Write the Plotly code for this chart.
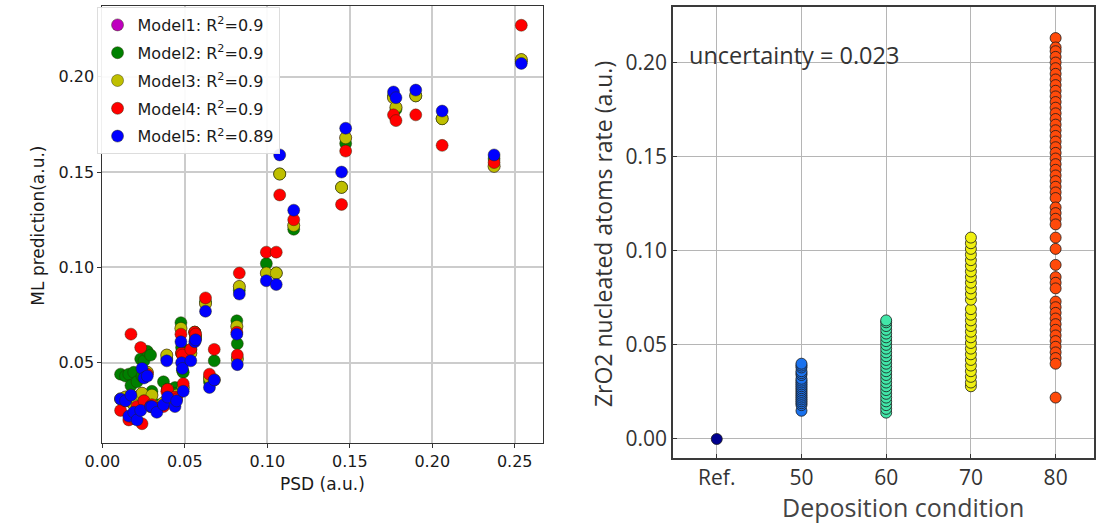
import plotly.graph_objects as go

# ---------------- Left panel data ----------------
psd = [0.011, 0.014, 0.016, 0.0173, 0.019, 0.021, 0.0232, 0.024, 0.0252, 0.0272,
       0.0292, 0.030, 0.033, 0.037, 0.039, 0.0395, 0.044, 0.045, 0.0476, 0.048,
       0.0485, 0.049, 0.0536, 0.056, 0.0565, 0.0625, 0.0649, 0.0678, 0.0815, 0.0818,
       0.083, 0.0994, 0.1054, 0.1075, 0.116, 0.145, 0.1475, 0.1765, 0.178, 0.190,
       0.206, 0.2375, 0.254]

model2 = [0.044, 0.043, 0.044, 0.038, 0.045, 0.040, 0.052, 0.043, 0.051, 0.056,
          0.054, 0.035, 0.028, 0.040, 0.052, 0.036, 0.037, 0.034, 0.071, 0.058,
          0.046, 0.045, 0.057, 0.066, 0.064, 0.082, 0.040, 0.051, 0.072, 0.060,
          0.088, 0.102, 0.097, 0.149, 0.120, 0.142, 0.165, 0.190, 0.183, 0.190,
          0.178, 0.157, 0.208]

model3 = [0.031, 0.032, 0.030, 0.033, 0.028, 0.030, 0.033, 0.034, 0.030, 0.045,
          0.029, 0.033, 0.027, 0.029, 0.054, 0.036, 0.030, 0.033, 0.068, 0.055,
          0.050, 0.037, 0.055, 0.066, 0.063, 0.081, 0.042, 0.041, 0.069, 0.052,
          0.090, 0.097, 0.097, 0.149, 0.122, 0.142, 0.168, 0.189, 0.184, 0.190,
          0.178, 0.153, 0.209]

model1 = list(model3)

model4 = [0.025, 0.030, 0.020, 0.065, 0.021, 0.027, 0.058, 0.018, 0.030, 0.044,
          0.027, 0.028, 0.026, 0.027, 0.035, 0.036, 0.032, 0.031, 0.065, 0.055,
          0.054, 0.039, 0.057, 0.066, 0.065, 0.084, 0.044, 0.057, 0.066, 0.054,
          0.097, 0.108, 0.108, 0.138, 0.125, 0.133, 0.161, 0.180, 0.177, 0.180,
          0.164, 0.155, 0.227]

model5 = [0.031, 0.030, 0.022, 0.033, 0.024, 0.020, 0.025, 0.047, 0.042, 0.043,
          0.027, 0.027, 0.024, 0.028, 0.051, 0.032, 0.027, 0.030, 0.061, 0.050,
          0.047, 0.035, 0.051, 0.061, 0.062, 0.077, 0.037, 0.041, 0.065, 0.049,
          0.086, 0.093, 0.091, 0.159, 0.130, 0.150, 0.173, 0.192, 0.189, 0.193,
          0.182, 0.159, 0.207]

model_names = ["Model1: R<sup>2</sup>=0.9", "Model2: R<sup>2</sup>=0.9",
               "Model3: R<sup>2</sup>=0.9", "Model4: R<sup>2</sup>=0.9",
               "Model5: R<sup>2</sup>=0.89"]
model_colors = ["#bf00bf", "#008000", "#bfbf00", "#ff0000", "#0000ff"]

# ---------------- Right panel data ----------------
categories = ["Ref.", "50", "60", "70", "80"]
rate_ref = [0.0]
rate_50 = [0.015, 0.018, 0.019, 0.020, 0.021, 0.022, 0.023, 0.024, 0.025, 0.026,
           0.027, 0.028, 0.029, 0.030, 0.031, 0.032, 0.034, 0.035, 0.036, 0.038,
           0.039, 0.040]
rate_60 = [0.014, 0.016, 0.018, 0.020, 0.022, 0.024, 0.026, 0.028, 0.030, 0.032,
           0.034, 0.036, 0.038, 0.040, 0.042, 0.044, 0.046, 0.048, 0.050, 0.052,
           0.054, 0.056, 0.058, 0.060, 0.062, 0.063]
rate_70 = [0.028, 0.030, 0.033, 0.036, 0.039, 0.042, 0.045, 0.048, 0.051, 0.054,
           0.057, 0.060, 0.063, 0.066, 0.069, 0.074, 0.077, 0.080, 0.083, 0.086,
           0.089, 0.092, 0.095, 0.098, 0.101, 0.104, 0.107]
rate_80 = [0.213, 0.208, 0.206, 0.203, 0.200, 0.197, 0.194, 0.191, 0.188, 0.185,
           0.182, 0.179, 0.176, 0.173, 0.170, 0.167, 0.164, 0.161, 0.158, 0.155,
           0.152, 0.149, 0.146, 0.143, 0.140, 0.137, 0.134, 0.131, 0.128, 0.123,
           0.120, 0.117, 0.114, 0.107, 0.101, 0.0925, 0.086, 0.083, 0.080, 0.073,
           0.070, 0.067, 0.064, 0.061, 0.058, 0.055, 0.052, 0.049, 0.046, 0.043,
           0.040, 0.022]
rates = [rate_ref, rate_50, rate_60, rate_70, rate_80]
cat_colors = ["#00008f", "#1a72ee", "#42e6a8", "#f0f010", "#ff4a0a"]

W, H = 1096, 523

fig = go.Figure()

models = [model1, model2, model3, model4, model5]
for i, (name, col, ys) in enumerate(zip(model_names, model_colors, models)):
    fig.add_trace(go.Scatter(
        x=psd, y=ys, mode="markers", name=name, legendgroup=f"g{i}",
        marker=dict(color=col, size=12, line=dict(color="rgba(40,40,0,0.55)", width=0.8)),
        xaxis="x", yaxis="y"))

for cat, vals, col in zip(categories, rates, cat_colors):
    fig.add_trace(go.Scatter(
        x=[cat] * len(vals), y=vals, mode="markers", showlegend=False,
        marker=dict(color=col, size=11, line=dict(color="#1a1a1a", width=0.8)),
        xaxis="x2", yaxis="y2"))

left_tick_font = dict(family="DejaVu Sans", size=16, color="#1a1a1a")
left_title_font = dict(family="DejaVu Sans", size=17, color="#1a1a1a")
right_font = dict(family="Open Sans", size=21, color="#333333")

fig.update_layout(
    width=W, height=H, margin=dict(l=0, r=0, t=0, b=0),
    paper_bgcolor="white", plot_bgcolor="white",
    showlegend=True,
    legend=dict(x=80 / W, y=1 - 7 / H, xanchor="left", yanchor="top",
                bgcolor="rgba(255,255,255,0.92)", bordercolor="#dddddd", borderwidth=1,
                font=dict(family="DejaVu Sans", size=16, color="#1a1a1a"),
                tracegroupgap=4, itemwidth=30),
    xaxis=dict(domain=[86 / W, 535 / W], range=[0, 0.2673], anchor="y",
               tickvals=[0, 0.05, 0.1, 0.15, 0.2, 0.25],
               ticktext=["0.00", "0.05", "0.10", "0.15", "0.20", "0.25"],
               ticks="outside", ticklen=4, tickcolor="#333333",
               showgrid=True, gridcolor="#cccccc", gridwidth=1.5,
               showline=True, linecolor="#333333", linewidth=1.2, mirror=True,
               zeroline=False, tickfont=left_tick_font),
    yaxis=dict(domain=[1 - 443 / H, 1 - 6 / H], range=[0.0079, 0.2371], anchor="x",
               tickvals=[0.05, 0.1, 0.15, 0.2],
               ticktext=["0.05", "0.10", "0.15", "0.20"],
               ticks="outside", ticklen=4, tickcolor="#333333",
               showgrid=True, gridcolor="#cccccc", gridwidth=1.5,
               showline=True, linecolor="#333333", linewidth=1.2, mirror=True,
               zeroline=False, tickfont=left_tick_font),
    xaxis2=dict(domain=[667.3 / W, 1.0], range=[-0.515, 4.453], anchor="y2",
                type="category", categoryorder="array", categoryarray=categories,
                ticks="inside", ticklen=4, tickcolor="#333333",
                showgrid=True, gridcolor="#b5b5b5", gridwidth=1,
                showline=True, linecolor="#3a3a3a", linewidth=2, mirror=True,
                zeroline=False, tickfont=right_font),
    yaxis2=dict(domain=[1 - 458 / H, 1 - 7 / H], range=[-0.0101, 0.2295], anchor="x2",
                tickvals=[0, 0.05, 0.1, 0.15, 0.2],
                ticktext=["0.00", "0.05", "0.10", "0.15", "0.20"],
                ticks="inside", ticklen=4, tickcolor="#333333",
                showgrid=True, gridcolor="#b5b5b5", gridwidth=1,
                showline=True, linecolor="#3a3a3a", linewidth=2, mirror=True,
                zeroline=False, tickfont=right_font),
)

annotations = [
    dict(text="PSD (a.u.)", x=310.5 / W, y=1 - 484 / H, xref="paper", yref="paper",
         xanchor="center", yanchor="middle", showarrow=False, font=left_title_font),
    dict(text="ML prediction(a.u.)", x=20 / W, y=1 - 226 / H, xref="paper", yref="paper",
         xanchor="center", yanchor="middle", showarrow=False, textangle=-90,
         font=left_title_font),
    dict(text="Deposition condition", x=901.5 / W, y=1 - 507 / H, xref="paper", yref="paper",
         xanchor="center", yanchor="middle", showarrow=False,
         font=dict(family="Open Sans", size=25, color="#444444")),
    dict(text="ZrO2 nucleated atoms rate (a.u.)", x=596 / W, y=1 - 234 / H, xref="paper",
         yref="paper", xanchor="center", yanchor="middle", showarrow=False, textangle=-90,
         font=dict(family="Open Sans", size=23, color="#333333")),
    dict(text="uncertainty = 0.023", x=681 / W, y=1 - 55 / H, xref="paper", yref="paper",
         xanchor="left", yanchor="middle", showarrow=False,
         font=dict(family="Open Sans", size=23.5, color="#333333")),
]
fig.update_layout(annotations=annotations)

fig.write_html("out.html")
